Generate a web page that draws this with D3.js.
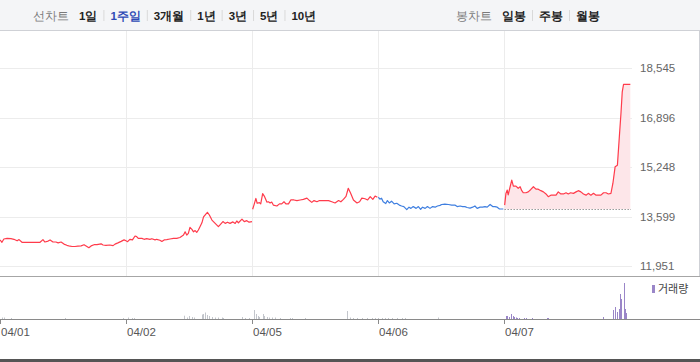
<!DOCTYPE html>
<html>
<head>
<meta charset="utf-8">
<script src="https://cdn.jsdelivr.net/npm/d3@7"></script>
<style>
  body { margin: 0; background: #fff; }
  #chart { width: 700px; height: 362px; }
  text { font-family: 'Liberation Sans', Arial, sans-serif; }
  .kr { font-family: 'Noto Sans CJK KR', 'Noto Sans', sans-serif; }
</style>
</head>
<body>
<div id="chart"></div>
<script>
// trading days and which way each day closed
var days = ['04/01', '04/02', '04/05', '04/06', '04/07'];
var dayMove = ['up', 'up', 'up', 'down', 'up'];

// intraday prices: [minutes after 09:00, price]
var price0401 = [[0,12820],[6,12740],[12,12850],[22,12870],[34,12860],[43,12840],[53,12790],[59,12830],[68,12740],[93,12740],[124,12740],[133,12830],[139,12750],[149,12780],[155,12820],[164,12750],[173,12750],[180,12720],[189,12750],[198,12680],[207,12640],[217,12610],[223,12600],[232,12600],[241,12610],[251,12620],[260,12660],[269,12600],[275,12560],[282,12620],[291,12660],[300,12660],[313,12690],[319,12650],[328,12640],[340,12650],[350,12630],[356,12680],[365,12720],[375,12770],[384,12820],[390,12790]];
var price0402 = [[0,12790],[5,12760],[12,12840],[20,12820],[28,12950],[33,12930],[38,12870],[49,12870],[56,12840],[64,12860],[74,12840],[80,12860],[90,12820],[95,12840],[105,12810],[111,12770],[118,12820],[126,12830],[136,12850],[147,12870],[157,12870],[167,12900],[178,12980],[183,13090],[188,12980],[193,13040],[198,13240],[204,13170],[209,13090],[214,13130],[219,13070],[224,13150],[229,13260],[235,13390],[240,13590],[245,13650],[252,13740],[258,13650],[266,13480],[276,13370],[286,13260],[291,13320],[300,13430],[307,13370],[314,13410],[322,13370],[331,13420],[338,13370],[343,13450],[348,13390],[359,13510],[366,13430],[374,13460],[381,13410],[390,13430]];
var price0405 = [[2,13840],[6,13980],[12,14200],[16,14040],[23,14060],[27,14020],[33,14360],[38,14280],[46,14080],[51,14090],[56,14050],[61,14080],[66,13980],[77,13950],[85,14020],[92,14020],[99,14090],[105,14020],[113,14020],[120,14150],[130,14150],[139,14130],[149,14150],[159,14170],[170,14210],[178,14130],[185,14070],[192,14130],[201,14090],[209,14130],[216,14130],[226,14130],[237,14130],[247,14090],[257,14050],[268,14130],[275,14090],[283,14170],[291,14270],[298,14540],[305,14380],[314,14150],[325,14050],[333,14090],[340,14210],[350,14190],[358,14150],[366,14260],[374,14170],[381,14280],[388,14240]];
var price0406 = [[1,14240],[6,14180],[11,14210],[16,14090],[24,14030],[29,14130],[35,14050],[42,14110],[50,14020],[58,14040],[66,13980],[73,13950],[80,13930],[89,13830],[96,13910],[102,13870],[109,13930],[118,13870],[125,13930],[132,13840],[138,13910],[146,13870],[153,13930],[161,13870],[169,13930],[177,13910],[184,13950],[192,13970],[197,14000],[207,14010],[218,14000],[228,13980],[238,13980],[245,13930],[254,13950],[262,13930],[269,13930],[276,13900],[285,13880],[293,13910],[300,13950],[307,13870],[316,13910],[324,13910],[331,13930],[338,13910],[347,14000],[355,13930],[362,13930],[369,13910],[376,13850],[388,13850]];
var price0407 = [[2,13980],[6,14370],[10,14480],[13,14320],[19,14590],[24,14810],[29,14610],[37,14610],[44,14540],[50,14590],[55,14460],[60,14390],[68,14390],[75,14420],[83,14500],[91,14590],[99,14510],[106,14510],[114,14460],[122,14420],[130,14350],[137,14260],[145,14310],[153,14310],[161,14310],[168,14420],[176,14350],[184,14350],[192,14390],[199,14350],[206,14390],[215,14370],[223,14420],[230,14460],[238,14420],[246,14350],[254,14310],[261,14370],[269,14310],[277,14370],[285,14310],[292,14310],[300,14310],[308,14390],[316,14390],[323,14350],[331,14370],[337,14700],[344,15260],[351,15310],[357,16250],[362,17030],[366,17750],[370,18000],[380,18000],[391,18000]];
var prices = [price0401, price0402, price0405, price0406, price0407];

// 04/06 close, reference line for the last day
var prevClose = 13850;

// volume: [minutes after 09:00, thousand shares]
var vol0401 = [[6,15],[12,15],[34,10],[201,10],[381,10]];
var vol0402 = [[6,15],[19,10],[25,10],[180,33],[189,15],[195,30],[204,20],[211,15],[235,45],[238,50],[245,65],[251,40],[257,30],[266,20],[276,15],[285,15],[297,15],[300,10],[359,20],[368,10],[381,10]];
var vol0405 = [[6,90],[12,50],[19,30],[22,20],[34,50],[37,30],[46,20],[53,15],[62,15],[71,15],[87,10],[118,10],[124,10],[164,10],[294,80],[304,15],[313,10],[326,10],[341,10],[356,10],[372,10],[381,10]];
var vol0406 = [[1,10],[12,10],[22,10],[31,10],[43,10],[59,10],[74,10],[84,10],[186,15]];
var vol0407 = [[6,30],[10,30],[15,20],[22,50],[27,30],[32,20],[36,15],[41,10],[47,10],[63,10],[67,10],[88,10],[132,10],[137,10],[307,20],[338,90],[345,120],[349,70],[355,100],[360,250],[363,200],[370,360],[373,100],[379,60]];
var volumes = [vol0401, vol0402, vol0405, vol0406, vol0407];

var yTicks = [11951, 13599, 15248, 16896, 18545];

var periodTabs = ['1일', '1주일', '3개월', '1년', '3년', '5년', '10년'];
var activeTab = '1주일';
var candleTabs = ['일봉', '주봉', '월봉'];

var sessionMinutes = 390;

var svg = d3.select('#chart').append('svg')
    .attr('width', 700)
    .attr('height', 362);

// toolbar
svg.append('rect')
    .attr('x', 0).attr('y', 0)
    .attr('width', 700).attr('height', 30)
    .attr('fill', '#f4f5f7');
svg.append('line')
    .attr('x1', 0).attr('x2', 700)
    .attr('y1', 30.5).attr('y2', 30.5)
    .attr('stroke', '#cfd1d6');

function tabGroup(label, tabs, labelX) {
  var g = svg.append('g').attr('class', 'kr');
  var t = g.append('text')
      .attr('x', labelX).attr('y', 20)
      .attr('font-size', 11.5)
      .attr('fill', '#7a7a7a')
      .text(label);
  var cx = labelX + t.node().getComputedTextLength() + 10;
  tabs.forEach(function (name, i) {
    if (i > 0) {
      g.append('line')
          .attr('x1', cx + 0.5).attr('x2', cx + 0.5)
          .attr('y1', 10).attr('y2', 21)
          .attr('stroke', '#d9d9d9');
      cx += 7;
    }
    var tt = g.append('text')
        .attr('x', cx).attr('y', 20)
        .attr('font-size', 11.5)
        .attr('font-weight', 'bold')
        .attr('fill', name === activeTab ? '#2e4bb5' : '#222')
        .text(name);
    cx += tt.node().getComputedTextLength() + 6;
  });
}
tabGroup('선차트', periodTabs, 33);
tabGroup('봉차트', candleTabs, 456);

// right border of the price panel
svg.append('line')
    .attr('x1', 699.5).attr('x2', 699.5)
    .attr('y1', 30).attr('y2', 276)
    .attr('stroke', '#cfd1d6');

var x = d3.scaleLinear()
    .domain([0, days.length])
    .range([0, 630]);

var y = d3.scaleLinear()
    .domain([yTicks[0], yTicks[yTicks.length - 1]])
    .range([266, 68]);

var volBase = 319;
var yv = d3.scaleLinear()
    .domain([0, d3.max(volumes, function (v) { return d3.max(v, function (d) { return d[1]; }); })])
    .range([volBase, 283]);

function tx(dayIndex, m) { return x(dayIndex + m / sessionMinutes); }

// grid
var grid = svg.append('g');
grid.selectAll('line.h')
    .data(yTicks)
    .enter()
  .append('line')
    .attr('class', 'h')
    .attr('x1', 0).attr('x2', 632)
    .attr('y1', function (d) { return Math.round(y(d)) + 0.5; })
    .attr('y2', function (d) { return Math.round(y(d)) + 0.5; })
    .attr('stroke', '#ececec');
grid.selectAll('line.v')
    .data(d3.range(1, days.length))
    .enter()
  .append('line')
    .attr('class', 'v')
    .attr('x1', function (d) { return Math.round(x(d)) + 0.5; })
    .attr('x2', function (d) { return Math.round(x(d)) + 0.5; })
    .attr('y1', 31).attr('y2', 276)
    .attr('stroke', '#ececec');

// y labels
svg.append('g').selectAll('text')
    .data(yTicks)
    .enter()
  .append('text')
    .attr('x', 640)
    .attr('y', function (d) { return y(d) + 4; })
    .attr('font-size', 11.5)
    .attr('fill', '#666')
    .text(function (d) { return d3.format(',')(d); });

// fill of the last day above previous close
var last = days.length - 1;
svg.append('path')
    .datum(prices[last])
    .attr('fill', '#fde6e9')
    .attr('d', d3.area()
      .x(function (d) { return tx(last, d[0]); })
      .y0(y(prevClose))
      .y1(function (d) { return y(d[1]); }));

svg.append('line')
    .attr('x1', tx(last, 2)).attr('x2', tx(last, sessionMinutes) + 1)
    .attr('y1', Math.round(y(prevClose)) + 0.5)
    .attr('y2', Math.round(y(prevClose)) + 0.5)
    .attr('stroke', '#666')
    .attr('stroke-dasharray', '1,2');

// price lines, one per day
var line = d3.line()
    .x(function (d) { return d.x; })
    .y(function (d) { return y(d[1]); });

svg.append('g').selectAll('path')
    .data(prices)
    .enter()
  .append('path')
    .attr('fill', 'none')
    .attr('stroke', function (d, i) { return dayMove[i] === 'up' ? '#ff3b4b' : '#3f7fe0'; })
    .attr('stroke-width', 1.2)
    .attr('stroke-linejoin', 'round')
    .attr('d', function (d, i) {
      return line(d.map(function (p) { var q = p.slice(); q.x = tx(i, p[0]); return q; }));
    });

// panel separator
svg.append('line')
    .attr('x1', 0).attr('x2', 700)
    .attr('y1', 276.5).attr('y2', 276.5)
    .attr('stroke', '#a6a6a6');

// volume bars
volumes.forEach(function (vols, i) {
  svg.append('g').selectAll('rect')
      .data(vols)
      .enter()
    .append('rect')
      .attr('x', function (d) { return Math.round(tx(i, d[0])); })
      .attr('width', 1)
      .attr('y', function (d) { return yv(d[1]); })
      .attr('height', function (d) { return volBase - yv(d[1]); })
      .attr('fill', i === last ? '#9a86c8' : '#c3c6cc');
});

// volume legend
svg.append('rect')
    .attr('x', 652).attr('y', 285)
    .attr('width', 3).attr('height', 8)
    .attr('fill', '#9a86c8');
svg.append('text')
    .attr('class', 'kr')
    .attr('x', 658).attr('y', 293)
    .attr('font-size', 11)
    .attr('fill', '#444')
    .text('거래량');

// x axis
var axis = svg.append('g');
axis.append('line')
    .attr('x1', 0).attr('x2', 700)
    .attr('y1', volBase + 0.5).attr('y2', volBase + 0.5)
    .attr('stroke', '#8a8a8a');
axis.selectAll('line.tick')
    .data(days)
    .enter()
  .append('line')
    .attr('class', 'tick')
    .attr('x1', function (d, i) { return Math.round(x(i)) + 0.5; })
    .attr('x2', function (d, i) { return Math.round(x(i)) + 0.5; })
    .attr('y1', volBase).attr('y2', volBase + 5)
    .attr('stroke', '#8a8a8a');
axis.selectAll('text')
    .data(days)
    .enter()
  .append('text')
    .attr('x', function (d, i) { return x(i) + 1; })
    .attr('y', 336)
    .attr('font-size', 11.5)
    .attr('fill', '#555')
    .text(function (d) { return d; });

// bottom border
svg.append('rect')
    .attr('x', 0).attr('y', 359)
    .attr('width', 700).attr('height', 3)
    .attr('fill', '#555');
</script>
</body>
</html>
